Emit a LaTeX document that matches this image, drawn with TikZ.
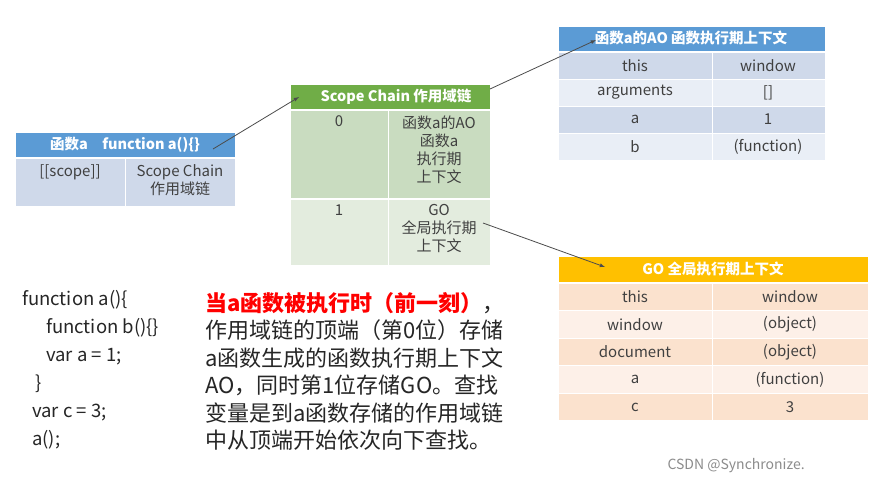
\documentclass[tikz,border=0pt]{standalone}
\usepackage{fontspec}
\setmainfont{Noto Sans CJK SC}
\begin{document}
\begin{tikzpicture}[x=1pt,y=-1pt,
  hdr/.style={font=\fontsize{14.5}{16}\selectfont\bfseries,text=white},
  txt/.style={font=\fontsize{15}{18}\selectfont,text=black!75,align=center},
  arr/.style={-latex,draw=black!70,line width=0.8pt}]
\definecolor{blueH}{HTML}{5B9BD5}
\definecolor{blueD}{HTML}{CFD9EA}
\definecolor{blueL}{HTML}{E9EEF6}
\definecolor{greenH}{HTML}{70AD47}
\definecolor{greenD}{HTML}{C9DCC0}
\definecolor{greenL}{HTML}{E3ECDE}
\definecolor{orH}{HTML}{FFC000}
\definecolor{orD}{HTML}{FBE2CE}
\definecolor{orL}{HTML}{FDF0E8}
\useasboundingbox (0,0) rectangle (885,485);
\fill[white] (0,0) rectangle (885,485);
% table A
\filldraw[fill=blueH,draw=white] (15,132) rectangle (235,157);
\node[hdr] (ah) at (125,145) {函数a\quad function a()\{\}};
\filldraw[fill=blueD,draw=white] (15,158) rectangle (125,206);
\filldraw[fill=blueD,draw=white] (125,158) rectangle (235,206);
\node[txt,anchor=north] (a1) at (70,161) {[[scope]]};
\node[txt,anchor=north] (a2) at (180,161) {Scope Chain\\作用域链};
\coordinate (aend) at (213,149);
% scope chain
\filldraw[fill=greenH,draw=white] (290,84) rectangle (490,109);
\node[hdr] (sh) at (392,97) {\hspace{8pt}Scope Chain 作用域链};
\coordinate (sin) at (299,97);
\coordinate (sout) at (490,89);
\filldraw[fill=greenD,draw=white] (290,110) rectangle (388,198);
\filldraw[fill=greenD,draw=white] (388,110) rectangle (490,198);
\filldraw[fill=greenL,draw=white] (290,199) rectangle (388,265);
\filldraw[fill=greenL,draw=white] (388,199) rectangle (490,265);
\node[txt,anchor=north] (s0) at (339,112) {0};
\node[txt,anchor=north] (s0v) at (439,112) {函数a的AO\\函数a\\执行期\\上下文};
\node[txt,anchor=north] (s1) at (339,201) {1};
\node[txt,anchor=north] (s1v) at (439,201) {GO\\全局执行期\\上下文};
\coordinate (s1out) at (483,223);
% AO table
\filldraw[fill=blueH,draw=white] (558,26) rectangle (825,51);
\node[hdr] (oh) at (691,38) {函数a的AO 函数执行期上下文};
\coordinate (oin) at (596,40);
\foreach \i/\k/\v/\c in {0/this/window/blueD,1/arguments/[]/blueL,2/a/1/blueD,3/b/(function)/blueL}{
  \filldraw[fill=\c,draw=white] (558,52+27*\i) rectangle (712,79+27*\i);
  \filldraw[fill=\c,draw=white] (712,52+27*\i) rectangle (825,79+27*\i);
  \node[txt] (ok\i) at (635,65.5+27*\i) {\k};
  \node[txt] (ov\i) at (768,65.5+27*\i) {\v};
}
% GO table
\filldraw[fill=orH,draw=white] (558,256) rectangle (868,282);
\node[hdr] (gh) at (713,269) {GO 全局执行期上下文};
\coordinate (gin) at (605,267);
\foreach \i/\k/\v/\c in {0/this/window/orD,1/window/(object)/orL,2/document/(object)/orD,3/a/(function)/orL,4/c/3/orD}{
  \filldraw[fill=\c,draw=white] (558,283+27.5*\i) rectangle (712,310.5+27.5*\i);
  \filldraw[fill=\c,draw=white] (712,283+27.5*\i) rectangle (868,310.5+27.5*\i);
  \node[txt] (gk\i) at (635,297+27.5*\i) {\k};
  \node[txt] (gv\i) at (790,297+27.5*\i) {\v};
}
% arrows
\draw[arr] (aend) -- (sin);
\draw[arr] (sout) -- (oin);
\draw[arr] (s1out) -- (gin);
% code
\node[anchor=north west,align=left,inner sep=0pt,font=\fontsize{18.5}{28}\selectfont,text=black!85] (code) at (22,290) {function a()\{\\\hspace*{24pt}function b()\{\}\\\hspace*{24pt}var a = 1;\\\hspace*{13pt}\}\\\hspace*{10pt}var c = 3;\\\hspace*{10pt}a();};
\node[anchor=north west,align=left,inner sep=0pt,font=\fontsize{22}{27.5}\selectfont,text=black!85] (para) at (205,292) {\textcolor{red}{\bfseries 当a函数被执行时（前一刻）}，\\作用域链的顶端（第0位）存储\\a函数生成的函数执行期上下文\\AO，同时第1位存储GO。查找\\变量是到a函数存储的作用域链\\中从顶端开始依次向下查找。};
\node[anchor=west,text=black!45,font=\fontsize{14}{16}\selectfont] (wm) at (664,466) {CSDN @Synchronize.};
\end{tikzpicture}
\end{document}
